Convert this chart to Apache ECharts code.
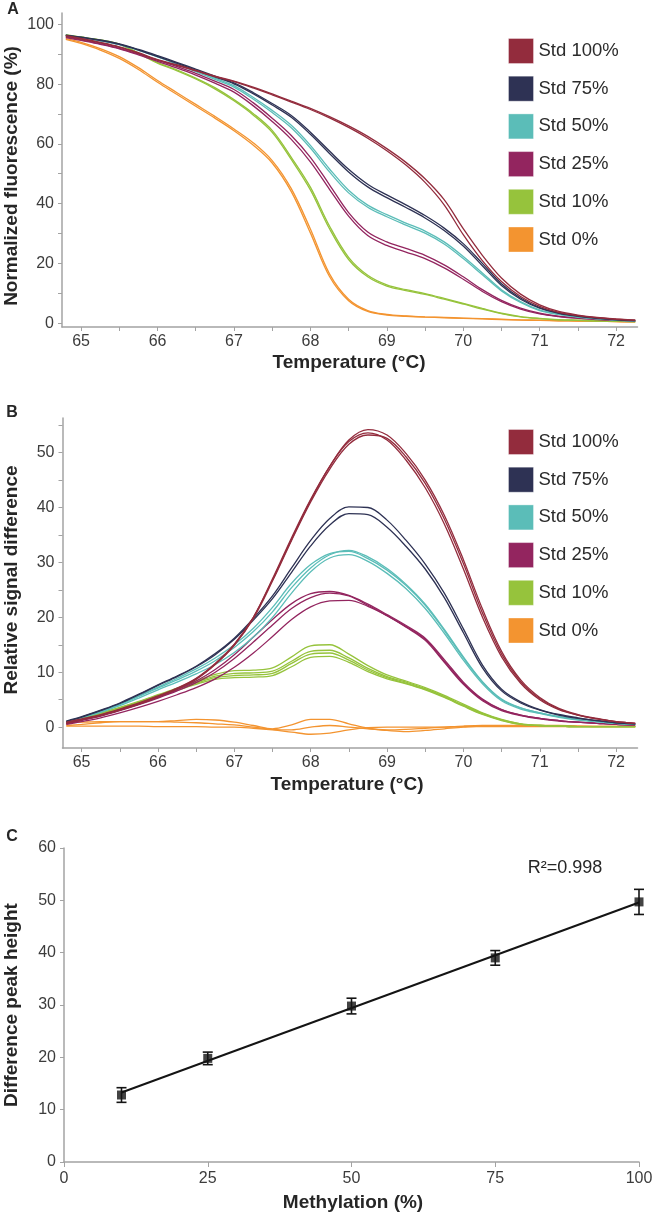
<!DOCTYPE html>
<html><head><meta charset="utf-8">
<script src="https://cdn.jsdelivr.net/npm/echarts@6/dist/echarts.min.js"></script>
<style>html,body{margin:0;padding:0;background:#fff}#c{width:666px;height:1215px}</style>
</head><body><div id="c"></div>
<script>
// ---------- shared ----------
const stdNames = ['Std 100%', 'Std 75%', 'Std 50%', 'Std 25%', 'Std 10%', 'Std 0%'];
const stdColors = ['#932c3d', '#2e3254', '#5bbdb8', '#93255f', '#96c33c', '#f39430'];
const temperature = [64.8, 65, 65.25, 65.5, 65.75, 66, 66.25, 66.5, 66.75, 67, 67.25, 67.5, 67.75, 68, 68.25, 68.5, 68.75, 69, 69.25, 69.5, 69.75, 70, 70.25, 70.5, 70.75, 71, 71.25, 71.5, 71.75, 72, 72.25];
const tempTicks = [65, 66, 67, 68, 69, 70, 71, 72];

// ---------- panel A : normalized fluorescence (%) , replicates ----------
const meltStd100 = [
  [96.0, 95.1, 93.8, 92.3, 90.3, 88.0, 86.3, 84.4, 82.5, 80.8, 78.7, 76.4, 74.0, 71.5, 68.7, 65.5, 61.9, 57.7, 52.9, 47.1, 39.6, 29.6, 20.9, 13.9, 8.9, 5.6, 3.6, 2.5, 1.8, 1.3, 1.0],
  [96.2, 95.3, 94.0, 92.5, 90.5, 88.2, 86.5, 84.6, 82.7, 81.0, 79.0, 76.7, 74.3, 71.9, 69.1, 66.0, 62.5, 58.4, 53.8, 48.3, 41.3, 31.6, 22.7, 15.1, 9.7, 6.1, 3.9, 2.7, 1.9, 1.4, 1.0]
];
const meltStd75 = [
  [96.3, 95.6, 94.6, 93.3, 91.4, 89.2, 87.0, 84.7, 82.4, 80.1, 76.8, 73.0, 68.9, 63.2, 56.8, 50.6, 45.6, 42.0, 38.7, 35.2, 31.0, 25.8, 19.2, 12.6, 8.0, 5.0, 3.3, 2.3, 1.6, 1.1, 0.8],
  [96.4, 95.7, 94.8, 93.5, 91.6, 89.5, 87.3, 85.0, 82.7, 80.4, 77.2, 73.5, 69.5, 63.9, 57.6, 51.5, 46.5, 42.9, 39.6, 36.0, 31.8, 26.6, 20.0, 13.2, 8.4, 5.2, 3.4, 2.4, 1.7, 1.2, 0.9]
];
const meltStd50 = [
  [96.3, 95.6, 94.6, 93.3, 91.5, 89.3, 87.0, 84.5, 82.0, 79.5, 75.6, 71.2, 66.2, 59.5, 51.6, 44.5, 39.5, 36.3, 33.5, 30.8, 27.2, 22.3, 16.8, 11.2, 7.2, 4.4, 3.0, 2.1, 1.5, 1.0, 0.7],
  [96.2, 95.5, 94.5, 93.2, 91.3, 89.1, 86.7, 84.2, 81.6, 79.0, 75.0, 70.5, 65.4, 58.6, 50.6, 43.6, 38.8, 35.6, 32.8, 30.1, 26.5, 21.6, 16.2, 10.8, 6.9, 4.2, 2.9, 2.0, 1.4, 1.0, 0.7]
];
const meltStd25 = [
  [95.8, 94.8, 93.5, 92.0, 90.1, 88.0, 85.9, 83.6, 81.0, 78.2, 73.8, 68.6, 62.8, 55.5, 46.3, 37.0, 30.5, 27.2, 25.0, 22.7, 19.5, 15.5, 11.2, 7.6, 5.0, 3.3, 2.3, 1.7, 1.3, 1.0, 0.8],
  [95.6, 94.6, 93.3, 91.8, 89.8, 87.6, 85.4, 83.0, 80.3, 77.3, 72.8, 67.5, 61.5, 54.0, 44.8, 35.8, 29.3, 26.0, 23.8, 21.6, 18.5, 14.7, 10.6, 7.2, 4.7, 3.1, 2.2, 1.6, 1.2, 0.9, 0.7]
];
const meltStd10 = [
  [96.5, 95.8, 94.8, 93.4, 90.4, 87.2, 84.8, 82.0, 78.8, 74.8, 70.2, 64.5, 55.5, 45.5, 32.5, 22.0, 16.0, 12.8, 11.2, 9.9, 8.3, 6.6, 4.9, 3.3, 2.2, 1.6, 1.2, 1.0, 0.8, 0.6, 0.5],
  [96.4, 95.7, 94.7, 93.3, 90.3, 87.0, 84.5, 81.7, 78.4, 74.4, 69.7, 63.9, 54.8, 44.6, 31.6, 21.3, 15.5, 12.4, 10.9, 9.6, 8.0, 6.4, 4.7, 3.2, 2.1, 1.5, 1.1, 0.9, 0.7, 0.6, 0.5]
];
const meltStd0 = [
  [95.2, 94.0, 91.9, 89.2, 85.5, 81.2, 77.2, 73.2, 69.2, 65.0, 60.4, 54.4, 45.0, 31.5, 16.5, 8.0, 4.2, 2.9, 2.4, 2.1, 1.9, 1.7, 1.5, 1.3, 1.1, 1.0, 0.8, 0.7, 0.6, 0.5, 0.4],
  [95.0, 93.6, 91.4, 88.6, 84.9, 80.6, 76.6, 72.6, 68.6, 64.4, 59.6, 53.6, 44.0, 30.2, 15.6, 7.5, 3.9, 2.7, 2.3, 2.0, 1.8, 1.6, 1.4, 1.2, 1.0, 0.9, 0.8, 0.7, 0.6, 0.5, 0.4]
];
const fluorTicks = [0, 20, 40, 60, 80, 100];

// ---------- panel B : relative signal difference, replicates ----------
const diffStd100 = [
  [0.8, 1.4, 2.2, 3.2, 4.3, 5.6, 7.0, 8.8, 11.5, 15.0, 20.0, 27.0, 34.5, 41.5, 47.5, 52.0, 53.6, 52.3, 48.6, 43.6, 37.0, 28.8, 20.0, 12.8, 8.0, 5.0, 3.2, 2.2, 1.5, 1.0, 0.7],
  [0.9, 1.5, 2.3, 3.3, 4.4, 5.7, 7.1, 8.9, 11.6, 15.1, 20.0, 26.8, 34.2, 41.3, 47.5, 52.3, 54.2, 53.2, 49.8, 45.0, 38.6, 30.5, 21.5, 13.8, 8.6, 5.4, 3.4, 2.3, 1.6, 1.0, 0.7],
  [0.7, 1.3, 2.1, 3.1, 4.2, 5.5, 6.9, 8.7, 11.4, 14.9, 19.8, 26.6, 34.0, 41.0, 47.0, 51.5, 53.2, 52.6, 49.2, 44.4, 37.9, 29.8, 20.8, 13.3, 8.3, 5.2, 3.3, 2.2, 1.5, 1.0, 0.7]
];
const diffStd75 = [
  [1.0, 1.8, 3.0, 4.3, 5.9, 7.6, 9.2, 11.0, 13.2, 16.0, 19.5, 23.4, 28.2, 33.0, 36.8, 38.9, 38.7, 36.4, 32.9, 28.8, 23.6, 17.2, 10.8, 6.6, 4.4, 3.1, 2.2, 1.6, 1.2, 0.8, 0.6],
  [1.1, 1.9, 3.1, 4.4, 6.0, 7.7, 9.3, 11.1, 13.4, 16.2, 19.8, 23.9, 29.0, 34.0, 38.0, 40.1, 40.0, 37.7, 34.0, 29.7, 24.4, 17.9, 11.3, 6.9, 4.6, 3.2, 2.3, 1.7, 1.2, 0.8, 0.6]
];
const diffStd50 = [
  [1.0, 1.8, 2.9, 4.2, 5.7, 7.3, 8.9, 10.6, 12.6, 15.0, 18.0, 21.8, 26.2, 29.6, 31.6, 32.0, 30.7, 28.6, 25.8, 22.2, 17.6, 12.6, 8.2, 5.0, 3.5, 2.6, 1.9, 1.4, 1.0, 0.7, 0.5],
  [0.9, 1.7, 2.7, 3.9, 5.3, 6.8, 8.2, 9.7, 11.4, 13.6, 16.4, 20.0, 24.4, 28.3, 30.8, 31.4, 30.2, 28.0, 25.2, 21.6, 17.1, 12.2, 7.9, 4.8, 3.3, 2.5, 1.8, 1.3, 1.0, 0.7, 0.5],
  [1.0, 1.8, 2.8, 4.1, 5.6, 7.1, 8.6, 10.2, 12.1, 14.5, 17.4, 21.0, 25.4, 29.0, 31.4, 32.2, 31.0, 28.9, 26.0, 22.4, 17.8, 12.8, 8.3, 5.1, 3.5, 2.6, 1.9, 1.4, 1.0, 0.7, 0.5]
];
const diffStd25 = [
  [0.6, 1.2, 2.0, 3.0, 4.1, 5.3, 6.6, 8.1, 10.0, 12.5, 15.5, 18.6, 21.6, 23.6, 24.4, 23.9, 22.2, 20.3, 18.3, 16.0, 12.0, 8.0, 5.0, 3.2, 2.2, 1.6, 1.2, 0.9, 0.7, 0.5, 0.4],
  [0.5, 1.0, 1.7, 2.6, 3.6, 4.7, 5.9, 7.2, 8.8, 10.9, 13.5, 16.5, 19.6, 21.9, 23.0, 23.1, 22.0, 20.3, 18.2, 15.8, 11.8, 7.8, 4.8, 3.0, 2.1, 1.5, 1.1, 0.9, 0.7, 0.5, 0.4],
  [0.6, 1.3, 2.1, 3.1, 4.2, 5.4, 6.8, 8.4, 10.5, 13.2, 16.4, 19.6, 22.5, 24.3, 24.7, 24.0, 22.4, 20.5, 18.5, 16.2, 12.3, 8.2, 5.1, 3.2, 2.2, 1.6, 1.2, 0.9, 0.7, 0.5, 0.4]
];
const diffStd10 = [
  [1.0, 1.7, 2.6, 3.6, 4.7, 5.9, 7.1, 8.4, 9.6, 10.3, 10.4, 10.8, 12.8, 14.8, 15.0, 13.3, 11.2, 9.5, 8.4, 7.2, 5.8, 4.2, 2.6, 1.4, 0.6, 0.3, 0.2, 0.1, 0.1, 0.1, 0.1],
  [0.9, 1.6, 2.5, 3.5, 4.6, 5.8, 7.0, 8.2, 9.3, 9.8, 9.9, 10.2, 12.0, 13.8, 14.0, 12.6, 10.7, 9.2, 8.2, 7.0, 5.6, 4.0, 2.5, 1.3, 0.6, 0.3, 0.2, 0.1, 0.1, 0.1, 0.1],
  [0.9, 1.5, 2.4, 3.4, 4.5, 5.7, 6.9, 8.0, 9.0, 9.4, 9.5, 9.8, 11.6, 13.3, 13.5, 12.2, 10.4, 9.0, 8.0, 6.9, 5.5, 3.9, 2.4, 1.3, 0.5, 0.3, 0.2, 0.1, 0.1, 0.1, 0.1],
  [0.8, 1.5, 2.3, 3.3, 4.4, 5.5, 6.7, 7.8, 8.7, 9.0, 9.1, 9.4, 11.0, 12.7, 12.9, 11.8, 10.1, 8.8, 7.9, 6.8, 5.4, 3.8, 2.3, 1.2, 0.5, 0.3, 0.2, 0.1, 0.1, 0.1, 0.1]
];
const diffStd0 = [
  [0.8, 0.9, 1.0, 1.0, 1.0, 1.0, 1.2, 1.4, 1.3, 0.9, 0.3, -0.3, 0.4, 1.4, 1.4, 0.6, -0.2, -0.5, -0.4, -0.2, 0.0, 0.2, 0.3, 0.3, 0.3, 0.3, 0.3, 0.2, 0.2, 0.2, 0.2],
  [0.3, 0.5, 0.8, 1.0, 1.0, 1.0, 0.9, 0.8, 0.6, 0.4, 0.0, -0.4, -0.5, 0.0, 0.3, 0.0, -0.3, -0.6, -0.8, -0.6, -0.3, 0.0, 0.2, 0.2, 0.2, 0.2, 0.2, 0.2, 0.1, 0.1, 0.1],
  [0.2, 0.2, 0.2, 0.2, 0.2, 0.1, 0.1, 0.1, 0.0, 0.0, -0.2, -0.5, -0.9, -1.3, -1.1, -0.5, -0.1, 0.0, 0.0, 0.0, 0.0, 0.1, 0.1, 0.1, 0.1, 0.1, 0.1, 0.1, 0.1, 0.1, 0.1]
];
const diffTicks = [0, 10, 20, 30, 40, 50];

// ---------- panel C : peak height vs methylation ----------
const methylation = [10, 25, 50, 75, 100];
const peakHeight = [12.8, 19.8, 29.8, 39.0, 49.7];
const peakError = [1.4, 1.2, 1.5, 1.4, 2.4];
const methylTicks = [0, 25, 50, 75, 100];
const peakTicks = [0, 10, 20, 30, 40, 50, 60];

// ---------- build ----------
const FONT = '"Liberation Sans", Arial, Helvetica, sans-serif';
const AXIS_COLOR = '#a3a3a3';
const LABEL_COLOR = '#3c3c3c';
const TITLE_COLOR = '#262626';

const meltSets = [meltStd100, meltStd75, meltStd50, meltStd25, meltStd10, meltStd0];
const diffSets = [diffStd100, diffStd75, diffStd50, diffStd25, diffStd10, diffStd0];

function rangeStep(a, b, s) { const r = []; for (let v = a; v <= b + 1e-9; v += s) r.push(+v.toFixed(4)); return r; }

function tempAxis(gi) {
  return {
    type: 'value', gridIndex: gi, min: 64.75, max: 72.28,
    axisLine: { show: true, onZero: false, lineStyle: { color: AXIS_COLOR, width: 1.5 } },
    axisTick: { show: true, inside: false, length: 4, customValues: rangeStep(65, 72, 0.5), lineStyle: { color: AXIS_COLOR } },
    axisLabel: { customValues: tempTicks, margin: 7, fontSize: 16, color: LABEL_COLOR, fontFamily: FONT },
    splitLine: { show: false }
  };
}
function valAxis(gi, min, max, labels, ticks) {
  return {
    type: 'value', gridIndex: gi, min: min, max: max,
    axisLine: { show: true, onZero: false, lineStyle: { color: AXIS_COLOR, width: 1.5 } },
    axisTick: { show: true, inside: false, length: 4, customValues: ticks, lineStyle: { color: AXIS_COLOR } },
    axisLabel: { customValues: labels, margin: 8, fontSize: 16, color: LABEL_COLOR, fontFamily: FONT },
    splitLine: { show: false }
  };
}

const series = [];
function addCurves(sets, axisIdx) {
  sets.forEach((reps, si) => {
    reps.forEach(rep => {
      series.push({
        type: 'line', name: stdNames[si], xAxisIndex: axisIdx, yAxisIndex: axisIdx,
        data: temperature.map((t, i) => [t, rep[i]]),
        smooth: 0.35, symbol: 'none', showSymbol: false,
        lineStyle: { width: 1.3, color: stdColors[si] },
        itemStyle: { color: stdColors[si] },
        z: 10 - si, animation: false
      });
    });
  });
}
addCurves(meltSets, 0);
addCurves(diffSets, 1);

// regression line (least squares from the data)
const n = methylation.length;
const mx = methylation.reduce((a, b) => a + b, 0) / n;
const my = peakHeight.reduce((a, b) => a + b, 0) / n;
let sxy = 0, sxx = 0;
for (let i = 0; i < n; i++) { sxy += (methylation[i] - mx) * (peakHeight[i] - my); sxx += (methylation[i] - mx) ** 2; }
const slope = sxy / sxx, icpt = my - slope * mx;
const xFirst = methylation[0], xLast = methylation[n - 1];
series.push({
  type: 'line', name: 'fit', xAxisIndex: 2, yAxisIndex: 2,
  data: [[xFirst, icpt + slope * xFirst], [xLast, icpt + slope * xLast]],
  symbol: 'none', lineStyle: { color: '#141414', width: 2 }, animation: false, z: 5
});
series.push({
  type: 'custom', name: 'err', xAxisIndex: 2, yAxisIndex: 2,
  data: methylation.map((m, i) => [m, peakHeight[i] - peakError[i], peakHeight[i] + peakError[i]]),
  encode: { x: 0, y: [1, 2] },
  renderItem: function (params, api) {
    const x = api.value(0);
    const p1 = api.coord([x, api.value(1)]);
    const p2 = api.coord([x, api.value(2)]);
    const w = 5;
    const st = { stroke: '#141414', lineWidth: 1.6 };
    return { type: 'group', children: [
      { type: 'line', shape: { x1: p1[0], y1: p1[1], x2: p2[0], y2: p2[1] }, style: st },
      { type: 'line', shape: { x1: p1[0] - w, y1: p1[1], x2: p1[0] + w, y2: p1[1] }, style: st },
      { type: 'line', shape: { x1: p2[0] - w, y1: p2[1], x2: p2[0] + w, y2: p2[1] }, style: st }
    ] };
  },
  animation: false, z: 6
});
series.push({
  type: 'scatter', name: 'points', xAxisIndex: 2, yAxisIndex: 2,
  data: methylation.map((m, i) => [m, peakHeight[i]]),
  symbol: 'rect', symbolSize: 9, itemStyle: { color: '#141414' }, animation: false, z: 7
});

function legendAt(top) {
  return {
    data: stdNames, orient: 'vertical', left: 508, top: top, padding: 0,
    itemWidth: 25, itemHeight: 25, itemGap: 11.7, icon: 'rect',
    selectedMode: false,
    itemStyle: { borderColor: 'rgba(255,255,255,0.35)', borderWidth: 1 },
    textStyle: { fontSize: 18.5, color: '#2b2b2b', fontFamily: FONT }
  };
}

function txt(text, x, y, size, bold, rot, align) {
  return {
    type: 'text', x: x, y: y, rotation: rot || 0,
    style: { text: text, fontSize: size, fontWeight: bold ? 'bold' : 'normal', fontFamily: FONT,
      fill: TITLE_COLOR, textAlign: align || 'center', textVerticalAlign: 'middle', align: align || 'center', verticalAlign: 'middle' }
  };
}

const option = {
  backgroundColor: '#ffffff',
  animation: false,
  grid: [
    { left: 62, top: 13, width: 575.5, height: 314 },
    { left: 62.5, top: 418, width: 575, height: 330 },
    { left: 64, top: 848, width: 575, height: 314 }
  ],
  xAxis: [
    tempAxis(0),
    tempAxis(1),
    {
      type: 'value', gridIndex: 2, min: 0, max: 100,
      axisLine: { show: true, onZero: false, lineStyle: { color: AXIS_COLOR, width: 1.5 } },
      axisTick: { show: true, length: 5, customValues: methylTicks, lineStyle: { color: AXIS_COLOR } },
      axisLabel: { customValues: methylTicks, margin: 9, fontSize: 16, color: LABEL_COLOR, fontFamily: FONT },
      splitLine: { show: false }
    }
  ],
  yAxis: [
    valAxis(0, -1.3, 103.8, fluorTicks, rangeStep(0, 100, 10)),
    valAxis(1, -3.8, 56.3, diffTicks, rangeStep(0, 55, 5)),
    valAxis(2, 0, 60, peakTicks, peakTicks)
  ],
  legend: [legendAt(38), legendAt(429)],
  series: series,
  graphic: [
    txt('A', 13, 10, 16, true),
    txt('B', 12, 413, 16, true),
    txt('C', 12, 837, 16, true),
    txt('Normalized fluorescence (%)', 12, 176, 19, true, Math.PI / 2),
    txt('Relative signal difference', 12, 580, 19, true, Math.PI / 2),
    txt('Difference peak height', 12, 1005, 19, true, Math.PI / 2),
    txt('Temperature (°C)', 349, 363, 19, true),
    txt('Temperature (°C)', 347, 785, 19, true),
    txt('Methylation (%)', 353, 1203, 19, true),
    txt('R²=0.998', 565, 868, 18, false)
  ]
};

const chart = echarts.init(document.getElementById('c'), null, { renderer: 'canvas' });
chart.setOption(option);
</script>
</body></html>
